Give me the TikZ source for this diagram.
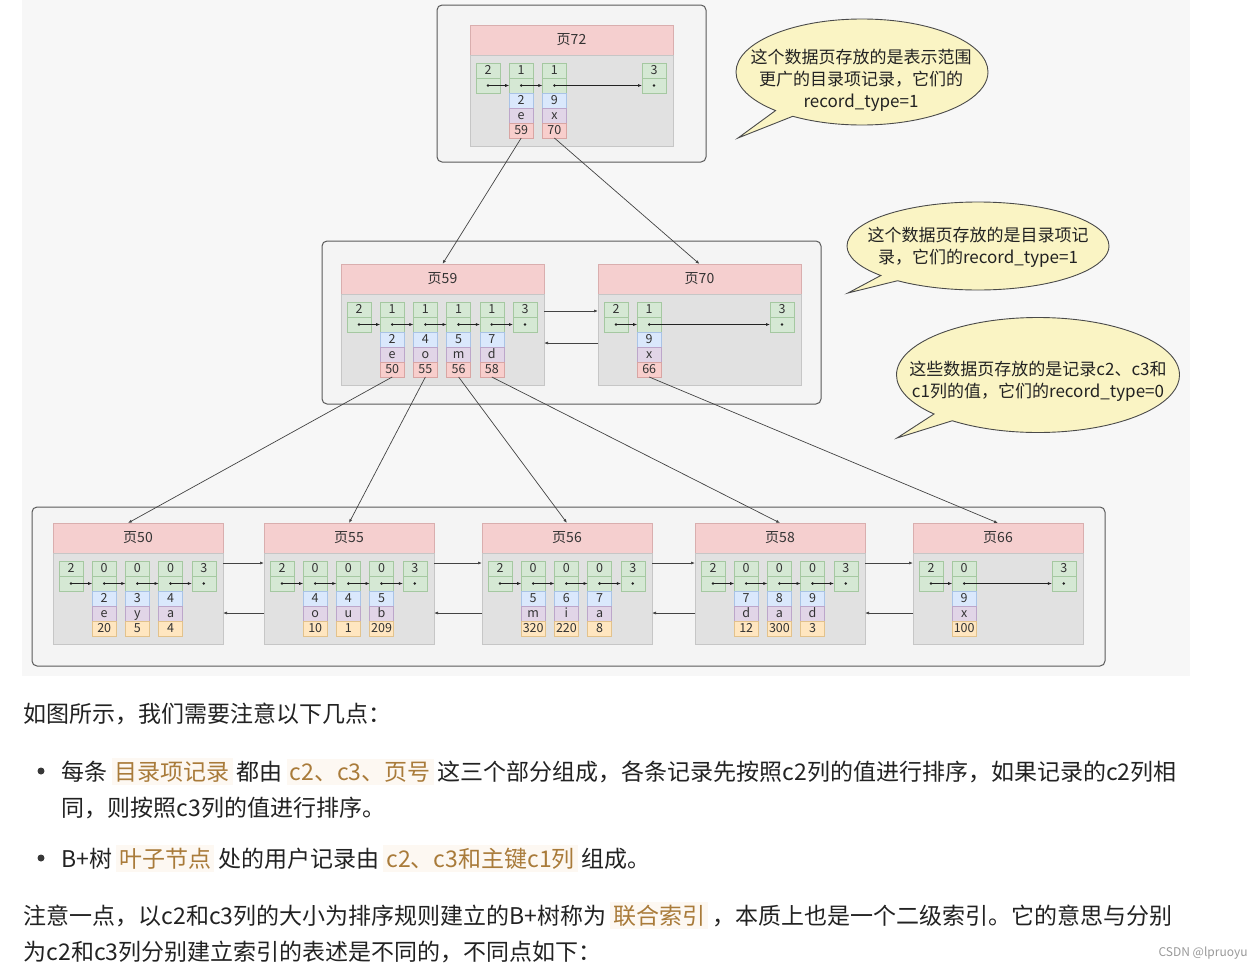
\documentclass[tikz,border=0pt]{standalone}
\usepackage{fontspec}
\setmainfont{Noto Sans CJK SC}
\usepackage{tikz}
\usetikzlibrary{positioning,arrows.meta,shapes.callouts}

\definecolor{ink}{HTML}{222222}
\definecolor{cellink}{HTML}{333333}
\definecolor{canvasbg}{HTML}{F7F7F7}
\definecolor{framefill}{HTML}{F4F4F4}
\definecolor{frameline}{HTML}{5A5A5A}
\definecolor{hdfill}{HTML}{F5CFCF}
\definecolor{hdline}{HTML}{D9AEAE}
\definecolor{bdfill}{HTML}{E1E1E1}
\definecolor{bdline}{HTML}{C6C6C6}
\definecolor{gfill}{HTML}{D5E8D4}
\definecolor{gline}{HTML}{A5C8A1}
\definecolor{bfill}{HTML}{DAE8FC}
\definecolor{bline}{HTML}{A9C3E6}
\definecolor{ufill}{HTML}{E1D5E7}
\definecolor{uline}{HTML}{BCA6CA}
\definecolor{nfill1}{HTML}{F8CECC}
\definecolor{nline1}{HTML}{D8A5A3}
\definecolor{nfill0}{HTML}{FFE6C0}
\definecolor{nline0}{HTML}{E2C28C}
\definecolor{bubfill}{HTML}{FAF4C4}
\definecolor{bubline}{HTML}{4A4A4A}
\definecolor{hltx}{HTML}{A97B3A}
\definecolor{hlbg}{HTML}{FDF8F2}

% highlighted words in the text below the figure
\newcommand\hlt[1]{\hspace{4pt}{\fboxsep=3pt\colorbox{hlbg}{\textcolor{hltx}{#1}}}\hspace{4pt}}

\begin{document}
\begin{tikzpicture}[
  x=1pt, y=-1pt, >={Latex[length=4pt,width=3pt]},
  hdr/.style={draw=hdline, fill=hdfill, minimum height=30, inner sep=0, outer sep=0,
              text=cellink, font=\fontsize{14}{16}\selectfont},
  pgbody/.style={draw=bdline, fill=bdfill, minimum height=91, inner sep=0, outer sep=0},
  cell/.style={minimum width=24, minimum height=15, inner sep=0, outer sep=0, text=cellink,
               text height=9pt, text depth=2pt, font=\fontsize{12.5}{14}\selectfont},
  gcell/.style={cell, fill=gfill, draw=gline},
  bcell/.style={cell, fill=bfill, draw=bline},
  ucell/.style={cell, fill=ufill, draw=uline},
  ncell/.style={cell, fill=nfill#1, draw=nline#1},
  pageframe/.style={draw=frameline, fill=framefill, line width=1pt, rounded corners=5pt},
  ptr/.style={->, draw=ink, line width=0.6pt},
  link/.style={->, draw=ink!85, line width=0.7pt},
  bubble/.style={ellipse callout, draw=bubline, fill=bubfill, line width=0.9pt,
                 inner sep=0, callout pointer arc=10},
  bubtext/.style={align=center, text=ink, font=\fontsize{17}{22}\selectfont},
  para/.style={anchor=base west, text=ink, font=\fontsize{23}{28}\selectfont},
  bullet/.style={circle, fill=ink!90, inner sep=0, minimum size=7},
]
\fill[white] (0,0) rectangle (1258,969);
\useasboundingbox (0,0) rectangle (1258,969);
\fill[canvasbg] (22,0) rectangle (1190,676);

\draw[pageframe] (437,5) rectangle (706,162);
\draw[pageframe] (322,241) rectangle (821,404);
\draw[pageframe] (32,507) rectangle (1105,666);

% pages: number / left / top / record_type / records / {record: c2/c3/page or c1}
\foreach \pg/\px/\py/\kind/\nrec/\recs in {
    72/470/25/1/2/{1/2/e/59, 2/9/x/70},
    59/341/264/1/4/{1/2/e/50, 2/4/o/55, 3/5/m/56, 4/7/d/58},
    70/598/264/1/1/{1/9/x/66},
    50/53/523/0/3/{1/2/e/20, 2/3/y/5, 3/4/a/4},
    55/264/523/0/3/{1/4/o/10, 2/4/u/1, 3/5/b/209},
    56/482/523/0/3/{1/5/m/320, 2/6/i/220, 3/7/a/8},
    58/695/523/0/3/{1/7/d/12, 2/8/a/300, 3/9/d/3},
    66/913/523/0/1/{1/9/x/100}} {
  \pgfmathsetmacro\w{170+33*\kind}
  \pgfmathtruncatemacro\sidx{4+\kind}
  \node[hdr, minimum width=\w] (p\pg) at (\px+\w/2, \py+15) {页\pg};
  \node[pgbody, minimum width=\w, below=0pt of p\pg] (body\pg) {};
  % infimum and supremum
  \node[gcell] (k\pg-0) at (\px+18, \py+45.5) {2};
  \node[gcell, below=0pt of k\pg-0] (d\pg-0) {};
  \node[gcell] (k\pg-\sidx) at (\px+18+33.2*\sidx, \py+45.5) {3};
  \node[gcell, below=0pt of k\pg-\sidx] (d\pg-\sidx) {};
  \fill[ink] (d\pg-0) circle (1.4pt) (d\pg-\sidx) circle (1.4pt);
  \foreach \i/\va/\vb/\vn [remember=\i as \j (initially 0)] in \recs {
    \node[gcell] (k\pg-\i) at (\px+18+33.2*\i, \py+45.5) {\kind};
    \node[gcell, below=0pt of k\pg-\i] (d\pg-\i) {};
    \node[bcell, below=0pt of d\pg-\i] (c\pg-\i) {\va};
    \node[ucell, below=0pt of c\pg-\i] (e\pg-\i) {\vb};
    \node[ncell=\kind, below=0pt of e\pg-\i] (n\pg-\i) {\vn};
    \fill[ink] (d\pg-\i) circle (1.4pt);
    \draw[ptr] (d\pg-\j.center) -- (d\pg-\i.west);
  }
  \draw[ptr] (d\pg-\nrec.center) -- (d\pg-\sidx.west);
}

% parent -> child
\draw[link] (n72-1.south) -- (p59.north);
\draw[link] (n72-2.south) -- (p70.north);
\draw[link] (n59-1.south) -- ([xshift=-10pt]p50.north);
\draw[link] (n59-2.south) -- (p55.north);
\draw[link] (n59-3.south) -- (p56.north);
\draw[link] (n59-4.south) -- (p58.north);
\draw[link] (n70-1.south) -- (p66.north);

% sibling pages
\draw[link] ([yshift=28.5pt]body59.east) -- ([yshift=28.5pt]body70.west);
\draw[link] ([yshift=-3.5pt]body70.west) -- ([yshift=-3.5pt]body59.east);
\foreach \la/\lb in {50/55, 55/56, 56/58, 58/66} {
  \draw[link] ([yshift=35.5pt]body\la.east) -- ([yshift=35.5pt]body\lb.west);
  \draw[link] ([yshift=-14.5pt]body\lb.west) -- ([yshift=-14.5pt]body\la.east);
}

% callouts
\node[bubble, minimum width=252, minimum height=106, callout absolute pointer={(738,138)}] (tip72) at (862,72) {};
\node[bubtext] (tip72t) at (861,80) {这个数据页存放的是表示范围\\更广的目录项记录，它们的\\record\_type=1};
\node[bubble, minimum width=262, minimum height=88, callout absolute pointer={(848,293)}] (tip59) at (978,246) {};
\node[bubtext] (tip59t) at (978,247) {这个数据页存放的是目录项记\\录，它们的record\_type=1};
\node[bubble, minimum width=283, minimum height=115, callout absolute pointer={(897,438)}] (tipleaf) at (1038,375) {};
\node[bubtext] (tipleaft) at (1038,381) {这些数据页存放的是记录c2、c3和\\c1列的值，它们的record\_type=0};

% text below the figure
\node[para] (t1) at (20,722) {如图所示，我们需要注意以下几点：};
\node[bullet] (dot1) at (41,771) {};
\node[para] (t2) at (58,780) {每条\hlt{目录项记录}都由\hlt{c2、c3、页号}这三个部分组成，各条记录先按照c2列的值进行排序，如果记录的c2列相};
\node[para] (t3) at (58,816) {同，则按照c3列的值进行排序。};
\node[bullet] (dot2) at (41,858) {};
\node[para] (t4) at (58,867) {B+树\hlt{叶子节点}处的用户记录由\hlt{c2、c3和主键c1列}组成。};
\node[para] (t5) at (20,924) {注意一点，以c2和c3列的大小为排序规则建立的B+树称为\hlt{联合索引}，本质上也是一个二级索引。它的意思与分别};
\node[para] (t6) at (20,960) {为c2和c3列分别建立索引的表述是不同的，不同点如下：};
\node[anchor=base west, text=gray!80, font=\fontsize{12}{14}\selectfont] (mark) at (1155,956) {CSDN @lpruoyu};
\end{tikzpicture}
\end{document}
